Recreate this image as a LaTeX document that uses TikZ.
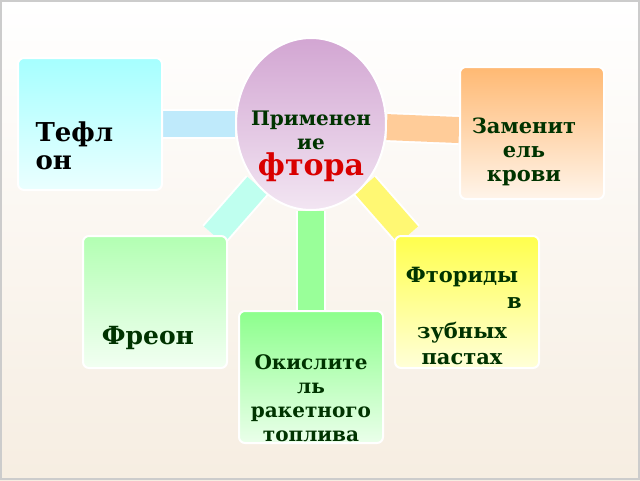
\documentclass[tikz,border=0pt]{standalone}
\usepackage{fontspec}
\setmainfont{DejaVu Serif}
\usetikzlibrary{backgrounds,shapes.geometric}

\tikzset{
  card/.style={draw=white, line width=2pt, rounded corners=6pt, minimum width=144pt, minimum height=132pt, font=\bfseries\fontsize{21}{24}\selectfont, text=green!20!black, align=center},
  bar/.style={line width=30pt, draw=white},
  barfill/.style={line width=26pt}
}

\begin{document}
\begin{tikzpicture}[x=1pt, y=-1pt]
    \useasboundingbox (0,0) rectangle (640,480);

    \node[card, top color=cyan!35, bottom color=cyan!8] (teflon) at (90,124) {};
    \node[anchor=west, font=\bfseries\fontsize{26}{28}\selectfont, align=left] (teflontext) at (32,146) {Тефл\\он};
    \node[card, top color=orange!55, bottom color=orange!8] (blood) at (532,133) {};
    \node[font=\bfseries\fontsize{21}{24}\selectfont, text=green!20!black, align=center] (bloodtext) at (524,152) {Заменит\\ель\\крови};
    \node[card, top color=green!30, bottom color=green!5] (freon) at (155,302) {};
    \node[font=\bfseries\fontsize{25}{27}\selectfont, text=green!20!black] (freontext) at (148,338) {Фреон};
    \node[card, top color=yellow!70, bottom color=yellow!15] (fluor) at (467,302) {};
    \node[font=\bfseries\fontsize{21}{26}\selectfont, text=green!20!black, align=center] (fluortext) at (462,316) {Фториды\\\hspace*{5em}в\\[4pt]зубных\\пастах};
    \node[card, top color=green!45, bottom color=green!8] (oxid) at (311,377) {};
    \node[font=\bfseries\fontsize{20}{24}\selectfont, text=green!20!black, align=center] (oxidtext) at (311,398) {Окислите\\ль\\ракетного\\топлива};
    \node[ellipse, draw=white, line width=2pt, minimum width=150pt, minimum height=172pt, top color=violet!35, bottom color=violet!10] (center) at (311,124) {};
    \node[align=center, font=\bfseries\fontsize{20}{24}\selectfont, text=green!20!black] (centertext) at (311,146) {Применен\\ие\\[2pt]{\color{red!85!black}\fontsize{30}{32}\selectfont фтора}};

    \begin{scope}[on background layer]
        \shade[top color=white, bottom color=yellow!8!brown!15] (0,0) rectangle (640,480);
        \draw[gray!40, line width=1.5pt] (1,1) rectangle (639,479);
        \draw[bar] (teflon) -- (center);
        \draw[barfill, cyan!25] (teflon) -- (center);
        \draw[bar] (blood) -- (center);
        \draw[barfill, orange!40] (blood) -- (center);
        \draw[bar] (freon) -- (center);
        \draw[barfill, green!25!cyan!25] (freon) -- (center);
        \draw[bar] (fluor) -- (center);
        \draw[barfill, yellow!55] (fluor) -- (center);
        \draw[bar] (oxid) -- (center);
        \draw[barfill, green!40] (oxid) -- (center);
    \end{scope}
\end{tikzpicture}
\end{document}
